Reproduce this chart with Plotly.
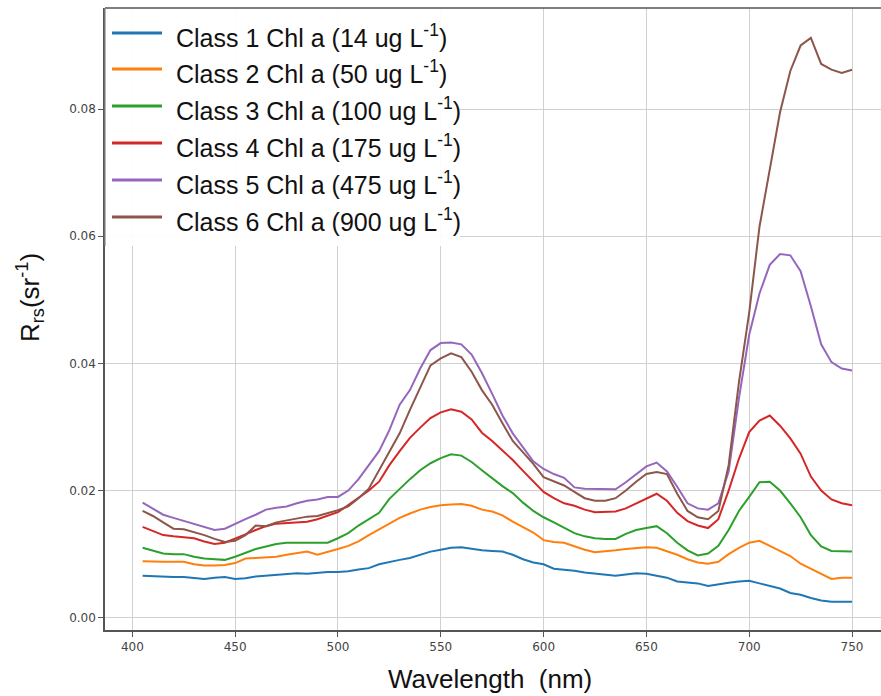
import plotly.graph_objects as go

wavelength = list(range(405, 751, 5))

class1 = [0.0066, 0.0065, 0.0064, 0.0064, 0.0064, 0.0062, 0.0061, 0.0063, 0.0064, 0.0061,
          0.0062, 0.0065, 0.0066, 0.0067, 0.0068, 0.0070, 0.0069, 0.0071, 0.0072, 0.0072,
          0.0073, 0.0076, 0.0078, 0.0084, 0.0088, 0.0091, 0.0094, 0.0099, 0.0104, 0.0107,
          0.0110, 0.0111, 0.0108, 0.0106, 0.0105, 0.0104, 0.0099, 0.0092, 0.0087, 0.0084,
          0.0077, 0.0076, 0.0074, 0.0071, 0.0069, 0.0067, 0.0066, 0.0068, 0.0070, 0.0069,
          0.0066, 0.0063, 0.0057, 0.0056, 0.0054, 0.0050, 0.0053, 0.0055, 0.0057, 0.0058,
          0.0054, 0.0050, 0.0046, 0.0039, 0.0036, 0.0031, 0.0027, 0.0025, 0.0025, 0.0025]

class2 = [0.0089, 0.0088, 0.0088, 0.0088, 0.0088, 0.0084, 0.0082, 0.0082, 0.0083, 0.0086,
          0.0093, 0.0094, 0.0095, 0.0096, 0.0099, 0.0102, 0.0104, 0.0099, 0.0103, 0.0108,
          0.0113, 0.0120, 0.0130, 0.0139, 0.0148, 0.0157, 0.0164, 0.0170, 0.0174, 0.0177,
          0.0178, 0.0179, 0.0176, 0.0170, 0.0167, 0.0161, 0.0151, 0.0142, 0.0134, 0.0122,
          0.0119, 0.0118, 0.0112, 0.0107, 0.0103, 0.0104, 0.0106, 0.0108, 0.0110, 0.0111,
          0.0110, 0.0105, 0.0099, 0.0092, 0.0087, 0.0085, 0.0088, 0.0100, 0.0110, 0.0118,
          0.0121, 0.0113, 0.0105, 0.0097, 0.0085, 0.0077, 0.0068, 0.0061, 0.0063, 0.0063]

class3 = [0.0110, 0.0106, 0.0101, 0.0100, 0.0100, 0.0096, 0.0093, 0.0092, 0.0091, 0.0096,
          0.0102, 0.0108, 0.0112, 0.0116, 0.0118, 0.0118, 0.0118, 0.0118, 0.0118, 0.0125,
          0.0133, 0.0145, 0.0155, 0.0165, 0.0187, 0.0203, 0.0218, 0.0232, 0.0243, 0.0251,
          0.0257, 0.0255, 0.0245, 0.0232, 0.0219, 0.0207, 0.0196, 0.0181, 0.0168, 0.0158,
          0.0150, 0.0141, 0.0133, 0.0128, 0.0125, 0.0124, 0.0124, 0.0132, 0.0138, 0.0141,
          0.0144, 0.0133, 0.0118, 0.0106, 0.0098, 0.0101, 0.0113, 0.0138, 0.0168, 0.0190,
          0.0213, 0.0214, 0.0200, 0.0180, 0.0158, 0.0130, 0.0112, 0.0105, 0.0104, 0.0104]

class4 = [0.0143, 0.0137, 0.0130, 0.0128, 0.0127, 0.0125, 0.0120, 0.0116, 0.0118, 0.0124,
          0.0131, 0.0138, 0.0144, 0.0148, 0.0149, 0.0149, 0.0151, 0.0155, 0.0160, 0.0166,
          0.0177, 0.0188, 0.0200, 0.0214, 0.0240, 0.0262, 0.0283, 0.0299, 0.0314, 0.0323,
          0.0328, 0.0324, 0.0312, 0.0291, 0.0278, 0.0263, 0.0248, 0.0231, 0.0214, 0.0198,
          0.0188, 0.0180, 0.0176, 0.0170, 0.0166, 0.0166, 0.0167, 0.0172, 0.0180, 0.0187,
          0.0195, 0.0184, 0.0165, 0.0152, 0.0145, 0.0141, 0.0155, 0.0200, 0.0250, 0.0292,
          0.0310, 0.0318, 0.0302, 0.0282, 0.0258, 0.0222, 0.0200, 0.0186, 0.0180, 0.0177]

class5 = [0.0181, 0.0172, 0.0162, 0.0157, 0.0152, 0.0147, 0.0142, 0.0138, 0.0140, 0.0148,
          0.0155, 0.0162, 0.0170, 0.0173, 0.0175, 0.0180, 0.0184, 0.0186, 0.0190, 0.0190,
          0.0200, 0.0218, 0.0240, 0.0262, 0.0295, 0.0335, 0.0358, 0.0392, 0.0421, 0.0432,
          0.0433, 0.0430, 0.0414, 0.0385, 0.0352, 0.0318, 0.0290, 0.0268, 0.0246, 0.0234,
          0.0226, 0.0220, 0.0205, 0.0203, 0.0203, 0.0202, 0.0202, 0.0213, 0.0225, 0.0238,
          0.0244, 0.0230, 0.0206, 0.0180, 0.0172, 0.0170, 0.0180, 0.0230, 0.0345, 0.0445,
          0.0510, 0.0555, 0.0572, 0.0570, 0.0545, 0.0490, 0.0430, 0.0402, 0.0392, 0.0389]

class6 = [0.0168, 0.0160, 0.0150, 0.0140, 0.0139, 0.0135, 0.0130, 0.0124, 0.0119, 0.0121,
          0.0130, 0.0145, 0.0144, 0.0150, 0.0153, 0.0157, 0.0159, 0.0160, 0.0164, 0.0169,
          0.0175, 0.0188, 0.0203, 0.0232, 0.0260, 0.0290, 0.0327, 0.0362, 0.0397, 0.0408,
          0.0416, 0.0410, 0.0387, 0.0358, 0.0335, 0.0306, 0.0278, 0.0260, 0.0242, 0.0221,
          0.0215, 0.0208, 0.0198, 0.0188, 0.0184, 0.0184, 0.0188, 0.0200, 0.0214, 0.0226,
          0.0229, 0.0226, 0.0195, 0.0168, 0.0158, 0.0155, 0.0168, 0.0240, 0.0370, 0.0480,
          0.0615, 0.0705, 0.0795, 0.0860, 0.0900, 0.0912, 0.0871, 0.0862, 0.0857, 0.0862]

series = [class1, class2, class3, class4, class5, class6]
labels = ["Class 1 Chl a (14 ug L<sup>-1</sup>)",
          "Class 2 Chl a (50 ug L<sup>-1</sup>)",
          "Class 3 Chl a (100 ug L<sup>-1</sup>)",
          "Class 4 Chl a (175 ug L<sup>-1</sup>)",
          "Class 5 Chl a (475 ug L<sup>-1</sup>)",
          "Class 6 Chl a (900 ug L<sup>-1</sup>)"]
colors = ["#1f77b4", "#ff7f0e", "#2ca02c", "#d62728", "#9467bd", "#8c564b"]

x_ticks = [400, 450, 500, 550, 600, 650, 700, 750]
y_ticks = [0.00, 0.02, 0.04, 0.06, 0.08]

W, H = 881, 696
ML, MR, MT, MB = 105, 0, 8, 66
PW, PH = W - ML - MR, H - MT - MB


def px(xp):
    return (xp - ML) / PW


def py(yp):
    return (H - MB - yp) / PH


fig = go.Figure()
for vals, lab, col in zip(series, labels, colors):
    fig.add_trace(go.Scatter(x=wavelength, y=vals, mode="lines", name=lab,
                             line=dict(color=col, width=2), showlegend=False))

shapes = []
# legend background
shapes.append(dict(type="rect", xref="paper", yref="paper", x0=0, x1=px(460),
                   y0=py(246), y1=1, fillcolor="rgba(255,255,255,0.93)",
                   line=dict(width=0), layer="above"))
# top spine
shapes.append(dict(type="line", xref="paper", yref="paper", x0=0, x1=1, y0=1, y1=1,
                   line=dict(color="#555555", width=1.5), layer="above"))
# left spine over legend area
shapes.append(dict(type="line", xref="paper", yref="paper", x0=0, x1=0, y0=py(246), y1=1,
                   line=dict(color="#888888", width=1.2), layer="above"))

annotations = []
row_y = [33, 69, 106, 143, 180, 217]
for lab, col, ry in zip(labels, colors, row_y):
    shapes.append(dict(type="line", xref="paper", yref="paper", x0=px(112), x1=px(162),
                       y0=py(ry), y1=py(ry), line=dict(color=col, width=3), layer="above"))
    annotations.append(dict(text=lab, xref="paper", yref="paper", x=px(174), y=py(ry + 3),
                            xanchor="left", yanchor="middle", showarrow=False,
                            font=dict(family="Liberation Sans, Arial", size=25, color="#111111")))

annotations.append(dict(text="R<sub>rs</sub>(sr<sup>-1</sup>)", xref="paper", yref="paper",
                        x=px(30), y=py(298), textangle=-90, xanchor="center", yanchor="middle",
                        showarrow=False,
                        font=dict(family="Liberation Sans, Arial", size=26, color="#111111")))
annotations.append(dict(text="Wavelength  (nm)", xref="paper", yref="paper",
                        x=px(490), y=py(679), xanchor="center", yanchor="middle",
                        showarrow=False,
                        font=dict(family="Liberation Sans, Arial", size=26, color="#111111")))

fig.update_layout(
    width=W, height=H,
    margin=dict(l=ML, r=MR, t=MT, b=MB),
    paper_bgcolor="white", plot_bgcolor="white",
    shapes=shapes, annotations=annotations,
    xaxis=dict(range=[386.7, 764.1], tickvals=x_ticks, ticktext=[str(v) for v in x_ticks],
               showgrid=True, gridcolor="#d0d0d0", gridwidth=1.3, zeroline=False,
               showline=True, linecolor="#555555", linewidth=1.5,
               ticks="outside", ticklen=5, tickcolor="#555555",
               tickfont=dict(family="DejaVu Sans", size=12, color="#444444")),
    yaxis=dict(range=[-0.00193, 0.0959], tickvals=y_ticks,
               ticktext=["%.2f" % v for v in y_ticks],
               showgrid=True, gridcolor="#d0d0d0", gridwidth=1.3, zeroline=False,
               showline=True, linecolor="#555555", linewidth=1.5,
               ticks="outside", ticklen=5, tickcolor="#555555",
               tickfont=dict(family="DejaVu Sans", size=12, color="#444444")),
)

fig.write_html("out.html")
